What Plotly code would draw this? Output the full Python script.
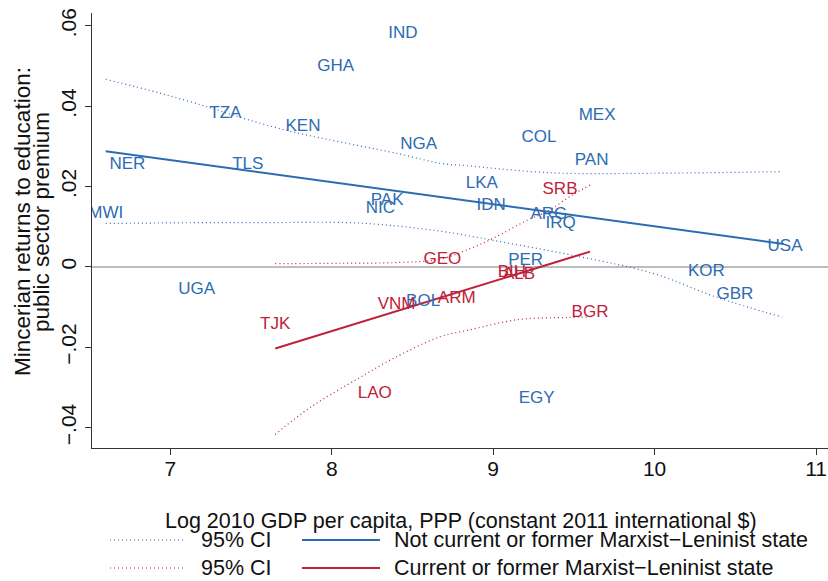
import plotly.graph_objects as go

# ---- data ----
blue_codes = ["IND", "GHA", "TZA", "KEN", "NGA", "COL", "MEX", "PAN", "NER", "TLS",
              "LKA", "PAK", "NIC", "IDN", "ARG", "IRQ", "MWI", "USA", "PER", "KOR",
              "UGA", "GBR", "BOL", "EGY"]
blue_x = [8.441, 8.024, 7.341, 7.822, 8.539, 9.284, 9.644, 9.610, 6.734, 7.480,
          8.930, 8.343, 8.302, 8.988, 9.345, 9.418, 6.600, 10.808, 9.201, 10.321,
          7.164, 10.497, 8.566, 9.269]
blue_y = [0.0580, 0.0497, 0.0381, 0.0350, 0.0304, 0.0321, 0.0377, 0.0264, 0.0254, 0.0254,
          0.0208, 0.0164, 0.0144, 0.0151, 0.0130, 0.0107, 0.0132, 0.0049, 0.0016, -0.0013,
          -0.0056, -0.0070, -0.0088, -0.0328]

red_codes = ["GEO", "SRB", "BIH", "ALB", "ARM", "VNM", "BGR", "TJK", "LAO"]
red_x = [8.685, 9.414, 9.116, 9.160, 8.774, 8.402, 9.600, 7.650, 8.267]
red_y = [0.0019, 0.0193, -0.0015, -0.0019, -0.0079, -0.0093, -0.0115, -0.0143, -0.0317]

# fitted lines
blue_fit_x = [6.60, 10.80]
blue_fit_y = [0.0288, 0.0057]
red_fit_x = [7.65, 9.60]
red_fit_y = [-0.0203, 0.0038]

# 95% confidence bands
blue_hi_x = [6.60, 6.94, 7.24, 7.45, 7.76, 8.42, 8.67, 8.83, 9.37, 9.97, 10.79]
blue_hi_y = [0.0467, 0.0432, 0.0397, 0.0370, 0.0336, 0.0281, 0.0258, 0.0252, 0.0234, 0.0233, 0.0237]
blue_lo_x = [6.60, 7.18, 7.56, 8.17, 8.67, 9.00, 9.54, 9.99, 10.38, 10.79]
blue_lo_y = [0.0108, 0.0110, 0.0110, 0.0109, 0.0089, 0.0066, 0.0025, -0.0016, -0.0075, -0.0125]
red_hi_x = [7.65, 8.05, 8.42, 8.67, 8.86, 9.00, 9.21, 9.33, 9.49, 9.60]
red_hi_y = [0.0008, 0.0009, 0.0011, 0.0019, 0.0046, 0.0071, 0.0116, 0.0137, 0.0179, 0.0204]
red_lo_x = [7.65, 7.87, 8.18, 8.38, 8.67, 8.84, 9.16, 9.46, 9.60]
red_lo_y = [-0.0417, -0.0349, -0.0274, -0.0228, -0.0174, -0.0158, -0.0131, -0.0126, -0.0125]

x_ticks = [7, 8, 9, 10, 11]
y_ticks = [-0.04, -0.02, 0, 0.02, 0.04, 0.06]
y_ticktext = ["\u2212.04", "\u2212.02", "0", ".02", ".04", ".06"]

legend_labels = ["Not current or former Marxist\u2212Leninist state",
                 "Current or former Marxist\u2212Leninist state"]
ci_label = "95% CI"
x_title = "Log 2010 GDP per capita, PPP (constant 2011 international $)"
y_title_lines = ["Mincerian returns to education:", "public sector premium"]

BLUE = "#2C6CB3"
RED = "#C0213A"
FONT = "Liberation Sans, Arial, sans-serif"
DOT = "1px,3px"
INK = "#111"

fig = go.Figure()
for xs, ys, c in [(blue_hi_x, blue_hi_y, BLUE), (blue_lo_x, blue_lo_y, BLUE),
                  (red_hi_x, red_hi_y, RED), (red_lo_x, red_lo_y, RED)]:
    fig.add_trace(go.Scatter(x=xs, y=ys, mode="lines",
                             line=dict(color=c, width=1.2, dash=DOT, shape="spline"),
                             hoverinfo="skip"))
fig.add_trace(go.Scatter(x=blue_fit_x, y=blue_fit_y, mode="lines",
                         line=dict(color=BLUE, width=2)))
fig.add_trace(go.Scatter(x=red_fit_x, y=red_fit_y, mode="lines",
                         line=dict(color=RED, width=2)))
fig.add_trace(go.Scatter(x=blue_x, y=blue_y, mode="text", text=blue_codes,
                         textposition="middle center",
                         textfont=dict(color=BLUE, size=17, family=FONT)))
fig.add_trace(go.Scatter(x=red_x, y=red_y, mode="text", text=red_codes,
                         textposition="middle center",
                         textfont=dict(color=RED, size=17, family=FONT)))

# layout geometry
L, R, T, B = 92, 0, 13, 133
W, H = 828, 581
pw, ph = W - L - R, H - T - B

def px_x(p):
    return (p - L) / pw

def px_y(p):
    return (H - B - p) / ph

shapes = []
annotations = []
rows = [(540, BLUE, legend_labels[0]), (568, RED, legend_labels[1])]
for py, c, lab in rows:
    shapes.append(dict(type="line", xref="paper", yref="paper",
                       x0=px_x(110), x1=px_x(185), y0=px_y(py), y1=px_y(py),
                       line=dict(color=c, width=1.2, dash=DOT)))
    shapes.append(dict(type="line", xref="paper", yref="paper",
                       x0=px_x(302), x1=px_x(380), y0=px_y(py), y1=px_y(py),
                       line=dict(color=c, width=2)))
    annotations.append(dict(xref="paper", yref="paper", x=px_x(199), y=px_y(py),
                            xanchor="left", yanchor="middle", showarrow=False,
                            text=ci_label, font=dict(size=21.5, color=INK, family=FONT)))
    annotations.append(dict(xref="paper", yref="paper", x=px_x(392), y=px_y(py),
                            xanchor="left", yanchor="middle", showarrow=False,
                            text=lab, font=dict(size=21.5, color=INK, family=FONT)))

annotations.append(dict(xref="paper", yref="paper", x=px_x(461), y=px_y(521),
                        xanchor="center", yanchor="middle", showarrow=False,
                        text=x_title, font=dict(size=21.5, color=INK, family=FONT)))
for cx, line in zip([22, 41], y_title_lines):
    annotations.append(dict(xref="paper", yref="paper", x=px_x(cx), y=px_y(222),
                            xanchor="center", yanchor="middle", showarrow=False,
                            textangle=-90, text=line,
                            font=dict(size=22.5, color=INK, family=FONT)))

fig.update_layout(
    width=W, height=H,
    margin=dict(l=L, r=R, t=T, b=B, autoexpand=False),
    paper_bgcolor="white", plot_bgcolor="white",
    showlegend=False,
    shapes=shapes, annotations=annotations,
    font=dict(family=FONT, color=INK),
)
fig.update_xaxes(range=[6.515, 11.074], tickvals=x_ticks, showgrid=False, zeroline=False,
                 automargin=False,
                 showline=True, linecolor="#333", linewidth=1.3,
                 ticks="outside", ticklen=6, tickcolor="#333", tickwidth=1.3,
                 ticklabelstandoff=-4,
                 tickfont=dict(size=21, family=FONT, color=INK))
fig.update_yaxes(range=[-0.04508, 0.06319], tickvals=y_ticks, ticktext=y_ticktext,
                 showgrid=False, zeroline=True, zerolinecolor="#BDBDBD", zerolinewidth=1.6,
                 automargin=False,
                 showline=True, linecolor="#333", linewidth=1.3,
                 ticks="outside", ticklen=6, tickcolor="#333", tickwidth=1.3,
                 tickangle=-90,
                 tickfont=dict(size=21, family=FONT, color=INK))

fig.write_html("out.html",
               config={"displayModeBar": False},
               post_script="document.body.style.margin='0';document.body.style.overflow='hidden';")
